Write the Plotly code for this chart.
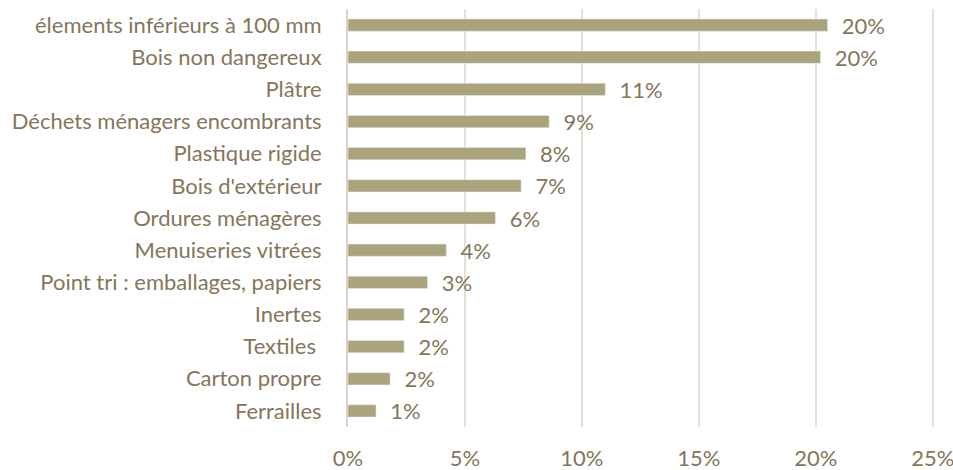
import plotly.graph_objects as go

# waste categories, top to bottom as shown
categories = [
    "élements inférieurs à 100 mm",
    "Bois non dangereux",
    "Plâtre",
    "Déchets ménagers encombrants",
    "Plastique rigide",
    "Bois d'extérieur",
    "Ordures ménagères",
    "Menuiseries vitrées",
    "Point tri : emballages, papiers",
    "Inertes",
    "Textiles ",
    "Carton propre",
    "Ferrailles",
]
shares = [0.205, 0.202, 0.110, 0.086, 0.076, 0.074, 0.063, 0.042, 0.034, 0.024, 0.024, 0.018, 0.012]
tick_vals = [0, 0.05, 0.10, 0.15, 0.20, 0.25]
tick_text = ["0%", "5%", "10%", "15%", "20%", "25%"]

BAR = "#A9A47B"
TXT = "#85765A"
GRID = "#E5E1D8"
FONT = "Lato, Open Sans, sans-serif"
SIZE = 22

labels = ["\u00a0\u00a0" + f"{round(v * 100)}%" for v in shares]

fig = go.Figure(go.Bar(
    x=shares,
    y=categories,
    orientation="h",
    marker=dict(color=BAR),
    width=0.38,
    text=labels,
    textposition="outside",
    constraintext="none",
    cliponaxis=False,
    textfont=dict(family=FONT, size=SIZE, color=TXT),
    showlegend=False,
))

fig.update_layout(
    width=953,
    height=470,
    margin=dict(l=348, r=19, t=9, b=43),
    paper_bgcolor="white",
    plot_bgcolor="white",
    font=dict(family=FONT, size=SIZE, color=TXT),
    xaxis=dict(
        range=[0, 0.2505],
        tickvals=tick_vals,
        ticktext=tick_text,
        showgrid=True,
        gridcolor=GRID,
        gridwidth=2,
        zeroline=False,
        showline=False,
        automargin=False,
        ticklabeloverflow="allow",
        ticklabelstandoff=16,
        tickfont=dict(size=SIZE, color=TXT),
    ),
    yaxis=dict(
        autorange="reversed",
        showline=True,
        linecolor="#D9D4C6",
        linewidth=2,
        showgrid=False,
        ticks="",
        automargin=False,
        ticklabelstandoff=20,
        tickfont=dict(size=SIZE, color=TXT),
    ),
)

# drop the default body margin so the figure fills the window exactly
fig.write_html(
    "out.html",
    config={"displayModeBar": False},
    post_script="document.body.style.margin='0';document.body.style.overflow='hidden';",
)
